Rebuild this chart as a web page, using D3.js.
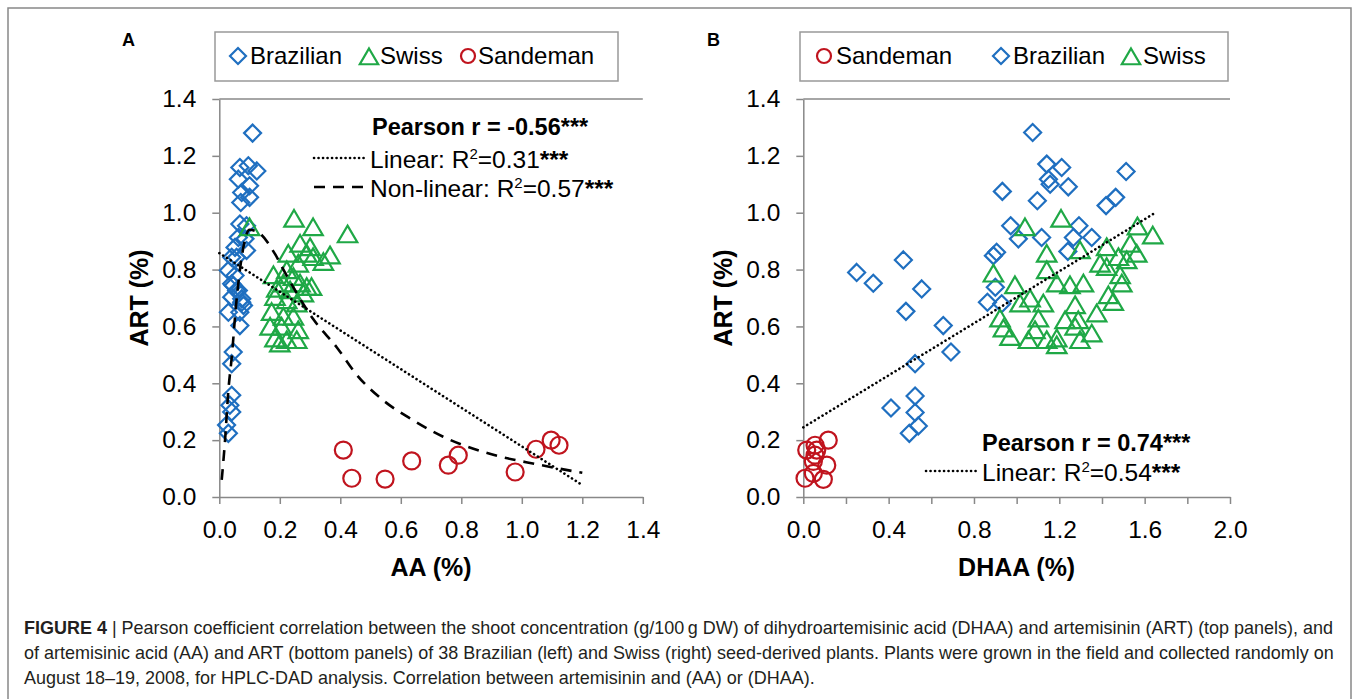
<!DOCTYPE html>
<html>
<head>
<meta charset="utf-8">
<title>Figure 4 - ART vs AA / DHAA</title>
<script src="https://cdn.jsdelivr.net/npm/d3@7"></script>
<style>
  body { margin: 0; background: #fff; }
  svg text { font-family: "Liberation Sans", Arial, Helvetica, sans-serif; }
</style>
</head>
<body>
<div id="chart"></div>
<script>
// ---- data ----
// panel A : AA (%) vs ART (%)
var brazilAA  = [0.11,0.068,0.096,0.063,0.124,0.10,0.074,0.10,0.071,0.068,0.09,0.063,0.085,0.052,0.09,0.041,0.057,0.03,0.052,0.041,0.057,0.041,0.074,0.046,0.063,0.074,0.08,0.03,0.068,0.068,0.046,0.041,0.041,0.035,0.041,0.024,0.03];
var brazilArtA = [1.28,1.159,1.165,1.118,1.147,1.095,1.071,1.054,1.036,0.96,0.954,0.913,0.908,0.878,0.867,0.843,0.843,0.797,0.779,0.75,0.726,0.703,0.697,0.744,0.726,0.685,0.674,0.65,0.65,0.603,0.51,0.469,0.358,0.323,0.299,0.253,0.224];
var swissAA   = [0.10,0.247,0.31,0.424,0.267,0.30,0.366,0.228,0.289,0.31,0.344,0.261,0.223,0.179,0.245,0.212,0.267,0.305,0.234,0.278,0.184,0.19,0.289,0.223,0.256,0.173,0.212,0.245,0.168,0.206,0.261,0.184,0.223,0.256,0.20];
var swissArtA = [0.948,0.978,0.948,0.923,0.89,0.878,0.849,0.855,0.855,0.843,0.826,0.82,0.797,0.779,0.773,0.75,0.75,0.738,0.726,0.715,0.703,0.732,0.738,0.691,0.68,0.65,0.633,0.633,0.598,0.598,0.586,0.557,0.551,0.551,0.539];
var sandAA    = [0.41,0.438,0.548,0.636,0.757,0.79,0.978,1.047,1.097,1.123];
var sandArtA  = [0.165,0.066,0.063,0.127,0.112,0.147,0.088,0.168,0.20,0.182];

// fitted lines panel A
var linearAX = [0.0, 1.2];
var linearAY = [0.858, 0.042];
var nonlinAX = [0.008,0.019,0.03,0.041,0.055,0.075,0.10,0.13,0.184,0.217,0.26,0.311,0.388,0.454,0.542,0.641,0.74,0.90,1.05,1.2];
var nonlinAY = [0.06,0.20,0.375,0.49,0.67,0.85,0.94,0.93,0.855,0.79,0.71,0.625,0.527,0.43,0.34,0.27,0.212,0.15,0.115,0.085];

// panel B : DHAA (%) vs ART (%)
var sandDHAA  = [0.016,0.055,0.063,0.117,0.047,0.11,0.008,0.047,0.094,0.055];
var sandArtB  = [0.165,0.182,0.165,0.20,0.125,0.112,0.066,0.083,0.062,0.147];
var brazilDHAA = [0.25,0.328,0.469,0.555,0.481,0.656,0.692,0.524,0.411,0.524,0.524,0.539,0.497,1.075,1.141,1.211,1.149,1.157,1.242,1.513,0.933,1.097,1.464,1.419,0.972,1.008,1.117,1.292,1.266,1.352,1.24,0.891,0.906,0.90,0.863,0.93];
var brazilArtB = [0.79,0.752,0.834,0.732,0.653,0.603,0.51,0.469,0.313,0.355,0.297,0.25,0.224,1.282,1.171,1.159,1.118,1.10,1.091,1.145,1.075,1.042,1.054,1.025,0.954,0.908,0.913,0.954,0.913,0.913,0.864,0.849,0.861,0.738,0.685,0.68];
var swissDHAA = [1.039,1.208,1.566,1.638,1.141,1.297,1.422,1.532,1.563,1.391,1.477,1.516,1.422,0.891,1.141,1.485,0.992,1.188,1.25,1.313,1.493,1.063,1.125,1.016,1.274,1.43,1.453,0.922,1.102,1.227,1.289,1.375,0.938,1.086,1.274,0.969,1.055,1.141,1.188,1.188,1.297,1.352];
var swissArtB = [0.948,0.978,0.951,0.919,0.855,0.867,0.878,0.89,0.855,0.82,0.843,0.832,0.808,0.785,0.797,0.779,0.744,0.75,0.744,0.75,0.75,0.697,0.68,0.68,0.674,0.709,0.685,0.627,0.627,0.621,0.621,0.645,0.592,0.586,0.598,0.562,0.551,0.551,0.557,0.533,0.551,0.574];

var linearBX = [0.0, 1.65];
var linearBY = [0.245, 1.0];

// ticks
var yTicks  = [0, 0.2, 0.4, 0.6, 0.8, 1.0, 1.2, 1.4];
var xTicksA = [0, 0.2, 0.4, 0.6, 0.8, 1.0, 1.2, 1.4];
var xTicksB = [0, 0.2, 0.4, 0.6, 0.8, 1.0, 1.2, 1.4, 1.6, 1.8, 2.0];

var BLUE = "#1f6fc0", GREEN = "#1fa846", RED = "#c0141e";

var svg = d3.select("#chart").append("svg")
  .attr("width", 1358).attr("height", 699);
svg.append("rect").attr("width", 1358).attr("height", 699).attr("fill", "#fff");

// outer frame
svg.append("path").attr("d", "M8,699V8H1351V699")
  .attr("fill", "none").attr("stroke", "#888").attr("stroke-width", 1.5);

// marker shapes
function markerPath(kind, s) {
  if (kind == "diamond") return "M0," + (-s) + "L" + s + ",0L0," + s + "L" + (-s) + ",0Z";
  if (kind == "triangle") return "M0," + (-s) + "L" + (s * 1.08) + "," + (s * 0.85) + "L" + (-s * 1.08) + "," + (s * 0.85) + "Z";
  return null;
}
function drawMarkers(g, xs, ys, kind, color, x, y) {
  var pts = xs.map(function(v, i) { return [v, ys[i]]; });
  if (kind == "circle") {
    g.selectAll(null).data(pts).enter().append("circle")
      .attr("cx", function(d) { return x(d[0]); })
      .attr("cy", function(d) { return y(d[1]); })
      .attr("r", 8.5)
      .attr("fill", "none").attr("stroke", color).attr("stroke-width", 2.2);
  } else {
    g.selectAll(null).data(pts).enter().append("path")
      .attr("transform", function(d) { return "translate(" + x(d[0]) + "," + y(d[1]) + ")"; })
      .attr("d", markerPath(kind, kind == "diamond" ? 8.5 : 9))
      .attr("fill", "none").attr("stroke", color).attr("stroke-width", 2.2)
      .attr("stroke-linejoin", "miter");
  }
}
function legendMarker(g, kind, color, cx, cy) {
  if (kind == "circle") {
    g.append("circle").attr("cx", cx).attr("cy", cy).attr("r", 7)
      .attr("fill", "none").attr("stroke", color).attr("stroke-width", 2.2);
  } else {
    g.append("path").attr("transform", "translate(" + cx + "," + (cy + (kind == "triangle" ? 1 : 0)) + ")")
      .attr("d", markerPath(kind, kind == "diamond" ? 8 : 8.5))
      .attr("fill", "none").attr("stroke", color).attr("stroke-width", 2.2);
  }
}

function drawPanel(p) {
  var x = d3.scaleLinear().domain([0, p.xMax]).range([p.left, p.right]);
  var y = d3.scaleLinear().domain([0, 1.4]).range([497, 99]);
  var g = svg.append("g");

  // top border of plot area
  g.append("line").attr("x1", p.left).attr("x2", p.right).attr("y1", 99).attr("y2", 99)
    .attr("stroke", "#888").attr("stroke-width", 1.5);

  var xAxis = g.append("g").attr("transform", "translate(0,497)")
    .call(d3.axisBottom(x).tickValues(p.xTicks).tickSize(7).tickSizeOuter(0).tickPadding(17)
      .tickFormat(function(d) { return p.labelEvery(d) ? d3.format(".1f")(d) : ""; }));
  var yAxis = g.append("g").attr("transform", "translate(" + p.left + ",0)")
    .call(d3.axisLeft(y).tickValues(yTicks).tickSize(7).tickSizeOuter(0).tickPadding(16)
      .tickFormat(d3.format(".1f")));
  [xAxis, yAxis].forEach(function(a) {
    a.select(".domain").attr("stroke", "#888").attr("stroke-width", 1.5);
    a.selectAll(".tick line").attr("stroke", "#888").attr("stroke-width", 1.5);
    a.selectAll(".tick text").attr("fill", "#000").style("font-size", "24.5px")
      .style("font-family", "'Liberation Sans', Arial, sans-serif");
  });

  // axis titles
  g.append("text").attr("x", (p.left + p.right) / 2).attr("y", 576)
    .attr("text-anchor", "middle").style("font-size", "25px").style("font-weight", "bold")
    .text(p.xTitle);
  g.append("text").attr("transform", "translate(" + (p.left - 71) + ",298) rotate(-90)")
    .attr("text-anchor", "middle").style("font-size", "25px").style("font-weight", "bold")
    .text("ART (%)");

  // panel letter
  g.append("text").attr("x", p.letterX).attr("y", 46).style("font-size", "18px")
    .style("font-weight", "bold").text(p.letter);

  // legend box
  var lg = g.append("g");
  lg.append("rect").attr("x", p.legend.x0).attr("y", 32).attr("width", p.legend.x1 - p.legend.x0)
    .attr("height", 49).attr("fill", "#fff").attr("stroke", "#999").attr("stroke-width", 1.5);
  p.legend.items.forEach(function(it) {
    legendMarker(lg, it.kind, it.color, it.mx, 56);
    lg.append("text").attr("x", it.tx).attr("y", 64).style("font-size", "24px").text(it.label);
  });

  // points
  p.series.forEach(function(s) { drawMarkers(g, s.xs, s.ys, s.kind, s.color, x, y); });

  // fitted lines
  var line = d3.line().x(function(d) { return x(d[0]); }).y(function(d) { return y(d[1]); });
  p.fits.forEach(function(f) {
    var pts = f.xs.map(function(v, i) { return [v, f.ys[i]]; });
    g.append("path").datum(pts)
      .attr("d", f.dash == "dashed" ? line.curve(d3.curveMonotoneX)(pts) : line.curve(d3.curveLinear)(pts))
      .attr("fill", "none").attr("stroke", "#000")
      .attr("stroke-width", 2.6)
      .attr("stroke-linecap", f.dash == "dashed" ? "butt" : "round")
      .attr("stroke-dasharray", f.dash == "dashed" ? "11,8" : "0.1,4.4");
  });

  // statistics annotation
  p.notes.forEach(function(n) {
    var t = g.append("text").attr("x", n.x).attr("y", n.y)
      .style("font-size", n.bold ? "23.5px" : "24.5px").style("font-weight", n.bold ? "bold" : "normal");
    n.parts.forEach(function(pt) {
      var ts = t.append("tspan").text(pt.t);
      if (pt.sup) ts.attr("dy", -9).style("font-size", "15px");
      if (pt.down) ts.attr("dy", 9);
      if (pt.bold) ts.style("font-weight", "bold");
    });
    if (n.sample) {
      g.append("line").attr("x1", n.sample[0]).attr("x2", n.sample[1])
        .attr("y1", n.y - 10).attr("y2", n.y - 10)
        .attr("stroke", "#000").attr("stroke-width", 2.6)
        .attr("stroke-linecap", n.sampleDash == "dashed" ? "butt" : "round")
        .attr("stroke-dasharray", n.sampleDash == "dashed" ? "11,8" : "0.1,4.4");
    }
  });
}

drawPanel({
  letter: "A", letterX: 122, left: 219.3, right: 642.8, xMax: 1.4, xTicks: xTicksA,
  labelEvery: function() { return true; }, xTitle: "AA (%)",
  legend: { x0: 215, x1: 618, items: [
    { kind: "diamond", color: BLUE, mx: 238, tx: 250, label: "Brazilian" },
    { kind: "triangle", color: GREEN, mx: 369, tx: 380, label: "Swiss" },
    { kind: "circle", color: RED, mx: 468, tx: 478, label: "Sandeman" }] },
  series: [
    { xs: brazilAA, ys: brazilArtA, kind: "diamond", color: BLUE },
    { xs: swissAA, ys: swissArtA, kind: "triangle", color: GREEN },
    { xs: sandAA, ys: sandArtA, kind: "circle", color: RED }],
  fits: [
    { xs: linearAX, ys: linearAY, dash: "dotted" },
    { xs: nonlinAX, ys: nonlinAY, dash: "dashed" }],
  notes: [
    { x: 372, y: 135, bold: true, parts: [{ t: "Pearson r = -0.56***" }] },
    { x: 370, y: 168, sample: [314, 366], sampleDash: "dotted",
      parts: [{ t: "Linear: R" }, { t: "2", sup: true }, { t: "=0.31", down: true }, { t: "***", bold: true }] },
    { x: 370, y: 197, sample: [314, 370], sampleDash: "dashed",
      parts: [{ t: "Non-linear: R" }, { t: "2", sup: true }, { t: "=0.57", down: true }, { t: "***", bold: true }] }]
});

drawPanel({
  letter: "B", letterX: 707, left: 803.3, right: 1230, xMax: 2.0, xTicks: xTicksB,
  labelEvery: function(d) { return Math.round(d * 10) % 4 == 0; }, xTitle: "DHAA (%)",
  legend: { x0: 800, x1: 1228, items: [
    { kind: "circle", color: RED, mx: 824, tx: 836, label: "Sandeman" },
    { kind: "diamond", color: BLUE, mx: 1001, tx: 1013, label: "Brazilian" },
    { kind: "triangle", color: GREEN, mx: 1131, tx: 1143, label: "Swiss" }] },
  series: [
    { xs: sandDHAA, ys: sandArtB, kind: "circle", color: RED },
    { xs: brazilDHAA, ys: brazilArtB, kind: "diamond", color: BLUE },
    { xs: swissDHAA, ys: swissArtB, kind: "triangle", color: GREEN }],
  fits: [{ xs: linearBX, ys: linearBY, dash: "dotted" }],
  notes: [
    { x: 982, y: 451, bold: true, parts: [{ t: "Pearson r = 0.74***" }] },
    { x: 982, y: 481, sample: [926, 979], sampleDash: "dotted",
      parts: [{ t: "Linear: R" }, { t: "2", sup: true }, { t: "=0.54", down: true }, { t: "***", bold: true }] }]
});

// caption
var capLines = [
  [{ t: "FIGURE 4", b: true }, { t: " | Pearson coefficient correlation between the shoot concentration (g/100\u2009g DW) of dihydroartemisinic acid (DHAA) and artemisinin (ART) (top panels), and" }],
  [{ t: "of artemisinic acid (AA) and ART (bottom panels) of 38 Brazilian (left) and Swiss (right) seed-derived plants. Plants were grown in the field and collected randomly on" }],
  [{ t: "August 18\u201319, 2008, for HPLC-DAD analysis. Correlation between artemisinin and (AA) or (DHAA)." }]
];
var capNodes = capLines.map(function(parts, i) {
  var t = svg.append("text").attr("x", 24).attr("y", 634 + i * 25)
    .attr("fill", "#231f20").style("font-size", "16px");
  parts.forEach(function(p) {
    var ts = t.append("tspan").text(p.t);
    if (p.b) ts.style("font-weight", "bold");
  });
  return t;
});
var w1 = capNodes[0].node().getComputedTextLength();
var fs = 16 * 1310 / w1;
capNodes.forEach(function(t) { t.style("font-size", fs + "px"); });
</script>
</body>
</html>
